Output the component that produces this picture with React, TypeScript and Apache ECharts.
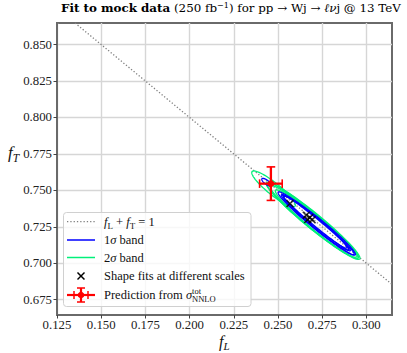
import React, { useEffect, useRef } from "react";
import * as echarts from "echarts";

// ---------- data ----------
const X_TICKS = [0.125, 0.15, 0.175, 0.2, 0.225, 0.25, 0.275, 0.3];
const Y_TICKS = [0.675, 0.7, 0.725, 0.75, 0.775, 0.8, 0.825, 0.85];
const X_RANGE = [0.125, 0.3145];
const Y_RANGE = [0.6645, 0.8648];
// f_L + f_T = 1 line, end points at the axis limits
const SUM_RULE = [
  [0.1352, 0.8648],
  [0.3145, 0.6855],
];
// contour ellipses [centre fL, centre fT, semi-major, semi-minor] (major axis along fL + fT = const)
const SIGMA1 = [
  [0.2435, 0.7556, 0.0035, 0.0013],
  [0.27, 0.729, 0.028, 0.0032],
  [0.2725, 0.7265, 0.029, 0.003],
  [0.2712, 0.7282, 0.025, 0.0027],
  [0.2735, 0.7258, 0.0285, 0.0034],
  [0.2718, 0.7276, 0.027, 0.0022],
];
const SIGMA2 = [
  [0.2475, 0.751, 0.017, 0.0038],
  [0.269, 0.7298, 0.036, 0.0046],
  [0.2705, 0.7283, 0.035, 0.0043],
  [0.272, 0.7268, 0.033, 0.0041],
  [0.27, 0.729, 0.037, 0.0048],
];
const SHAPE_FITS = [
  [0.2568, 0.7409],
  [0.266, 0.733],
  [0.268, 0.7313],
  [0.2693, 0.7298],
  [0.2668, 0.73],
];
// [fL, fT, err fL, err fT]
const PREDICTION = [[0.246, 0.7546, 0.0064, 0.0115]];

// ---------- style ----------
const FONT = "'Liberation Serif', 'Times New Roman', serif";
const TITLE_FONT = "'DejaVu Serif', serif";
const BLUE = "#0000ff";
const GREEN = "#00f07a";
const RED = "#ff0000";
const GRID_COLOR = "#d6d6d6";
const AXIS_COLOR = "#6a6a6a";

type Seg = {
  t: string;
  s: number;
  i?: boolean;
  b?: boolean;
  dy?: number;
  fam?: string;
  stack?: boolean; // start at same x as previous segment
};

let ctx: CanvasRenderingContext2D | null = null;
function textWidth(seg: Seg) {
  if (!ctx) ctx = document.createElement("canvas").getContext("2d");
  if (!ctx) return seg.t.length * seg.s * 0.5;
  ctx.font = `${seg.i ? "italic " : ""}${seg.b ? "bold " : ""}${seg.s}px ${seg.fam || FONT}`;
  return ctx.measureText(seg.t).width;
}

function runWidth(segs: Seg[]) {
  let x = 0;
  let prevStart = 0;
  for (const sg of segs) {
    const start = sg.stack ? prevStart : x;
    const w = textWidth(sg);
    prevStart = start;
    x = sg.stack ? Math.max(x, start + w) : start + w;
  }
  return x;
}

function run(segs: Seg[], x0: number, baseline: number, fill = "#111") {
  const els: any[] = [];
  let x = x0;
  let prevStart = x0;
  for (const sg of segs) {
    const start = sg.stack ? prevStart : x;
    const w = textWidth(sg);
    els.push({
      type: "text",
      x: start,
      y: baseline + (sg.dy || 0) - 0.3 * sg.s,
      z: 100,
      silent: true,
      style: {
        text: sg.t,
        fontSize: sg.s,
        fontFamily: sg.fam || FONT,
        fontStyle: sg.i ? "italic" : "normal",
        fontWeight: sg.b ? "bold" : "normal",
        fill,
        align: "left",
        verticalAlign: "middle",
      },
    });
    prevStart = start;
    x = sg.stack ? Math.max(x, start + w) : start + w;
  }
  return els;
}

function ellipseSeries(name: string, data: number[][], color: string) {
  return {
    type: "custom",
    name,
    data,
    encode: { x: 0, y: 1 },
    silent: true,
    renderItem: (_p: any, api: any) => {
      const cx = api.value(0);
      const cy = api.value(1);
      const a = api.value(2);
      const b = api.value(3);
      const u = [Math.SQRT1_2, -Math.SQRT1_2];
      const v = [Math.SQRT1_2, Math.SQRT1_2];
      const pts: number[][] = [];
      const n = 120;
      for (let k = 0; k <= n; k++) {
        const t = (2 * Math.PI * k) / n;
        const px = cx + a * Math.cos(t) * u[0] + b * Math.sin(t) * v[0];
        const py = cy + a * Math.cos(t) * u[1] + b * Math.sin(t) * v[1];
        pts.push(api.coord([px, py]));
      }
      return {
        type: "polyline",
        shape: { points: pts },
        style: { stroke: color, fill: "none", lineWidth: 1.3 },
      };
    },
  };
}

const CROSS_PATH =
  "path://M0,1.4 L1.4,0 L5,3.6 L8.6,0 L10,1.4 L6.4,5 L10,8.6 L8.6,10 L5,6.4 L1.4,10 L0,8.6 L3.6,5 Z";

export default function App() {
  const ref = useRef<HTMLDivElement>(null);
  useEffect(() => {
    if (!ref.current) return;
    const chart = echarts.init(ref.current, undefined, { renderer: "svg" });

    // ---------- title ----------
    const titleBase: Seg[] = [
      { t: "Fit to mock data", s: 11, b: true, fam: TITLE_FONT },
      { t: " (250 fb", s: 11, fam: TITLE_FONT },
      { t: "\u22121", s: 7.5, dy: -4, fam: TITLE_FONT },
      { t: ") for pp \u2192 Wj \u2192 ", s: 11, fam: TITLE_FONT },
      { t: "\u2113\u03bd", s: 11, i: true, fam: TITLE_FONT },
      { t: "j @ 13 TeV", s: 11, fam: TITLE_FONT },
    ];
    const tw = runWidth(titleBase);
    const k = 340 / tw;
    const titleSegs = titleBase.map((s) => ({ ...s, s: s.s * k, dy: (s.dy || 0) * k }));
    const titleEls = run(titleSegs, 61, 11.5, "#000");

    // ---------- axis labels ----------
    const yLabel = run(
      [
        { t: "f", s: 17, i: true },
        { t: "T", s: 11.5, i: true, dy: 3 },
      ],
      8,
      158,
      "#111"
    );
    const xLabel = run(
      [
        { t: "f", s: 16, i: true },
        { t: "L", s: 11, i: true, dy: 3 },
      ],
      219,
      346,
      "#111"
    );

    // ---------- legend ----------
    const LX = 104;
    const fs = 12.5;
    const rows = [221.7, 240, 257.5, 276, 295];
    const legendText = [
      ...run(
        [
          { t: "f", s: fs, i: true },
          { t: "L", s: 9, dy: 2.5 },
          { t: " + ", s: fs },
          { t: "f", s: fs, i: true },
          { t: "T", s: 9, dy: 2.5 },
          { t: " = 1", s: fs },
        ],
        LX,
        rows[0] + 4
      ),
      ...run(
        [
          { t: "1", s: fs },
          { t: "\u03c3", s: fs, i: true },
          { t: " band", s: fs },
        ],
        LX,
        rows[1] + 4
      ),
      ...run(
        [
          { t: "2", s: fs },
          { t: "\u03c3", s: fs, i: true },
          { t: " band", s: fs },
        ],
        LX,
        rows[2] + 4
      ),
      ...run([{ t: "Shape fits at different scales", s: fs }], LX, rows[3] + 4),
      ...run(
        [
          { t: "Prediction from ", s: fs },
          { t: "\u03c3", s: fs, i: true },
          { t: "tot", s: 8.5, dy: -5.5 },
          { t: "NNLO", s: 8.5, dy: 3, stack: true },
        ],
        LX,
        rows[4] + 4
      ),
    ];
    const hx1 = 67;
    const hx2 = 95;
    const hc = 81;
    const legend = [
      {
        type: "rect",
        z: 90,
        silent: true,
        shape: { x: 63.5, y: 212.5, width: 187.5, height: 94, r: 3 },
        style: { fill: "rgba(255,255,255,0.8)", stroke: "#d0d0d0", lineWidth: 1 },
      },
      {
        type: "line",
        z: 95,
        shape: { x1: hx1, y1: rows[0], x2: hx2, y2: rows[0] },
        style: { stroke: "#808080", lineWidth: 1.3, lineDash: [1.3, 2] },
      },
      {
        type: "line",
        z: 95,
        shape: { x1: hx1, y1: rows[1], x2: hx2, y2: rows[1] },
        style: { stroke: BLUE, lineWidth: 1.5 },
      },
      {
        type: "line",
        z: 95,
        shape: { x1: hx1, y1: rows[2], x2: hx2, y2: rows[2] },
        style: { stroke: GREEN, lineWidth: 1.5 },
      },
      {
        type: "line",
        z: 95,
        shape: { x1: hc - 3.5, y1: rows[3] - 3.5, x2: hc + 3.5, y2: rows[3] + 3.5 },
        style: { stroke: "#000", lineWidth: 1.5 },
      },
      {
        type: "line",
        z: 95,
        shape: { x1: hc - 3.5, y1: rows[3] + 3.5, x2: hc + 3.5, y2: rows[3] - 3.5 },
        style: { stroke: "#000", lineWidth: 1.5 },
      },
      {
        type: "line",
        z: 95,
        shape: { x1: hx1, y1: rows[4], x2: hx2, y2: rows[4] },
        style: { stroke: RED, lineWidth: 2.2 },
      },
      {
        type: "line",
        z: 95,
        shape: { x1: hc, y1: rows[4] - 7, x2: hc, y2: rows[4] + 7 },
        style: { stroke: RED, lineWidth: 2.2 },
      },
      {
        type: "line",
        z: 95,
        shape: { x1: hc - 4, y1: rows[4] - 7, x2: hc + 4, y2: rows[4] - 7 },
        style: { stroke: RED, lineWidth: 1.5 },
      },
      {
        type: "line",
        z: 95,
        shape: { x1: hc - 4, y1: rows[4] + 7, x2: hc + 4, y2: rows[4] + 7 },
        style: { stroke: RED, lineWidth: 1.5 },
      },
      {
        type: "line",
        z: 95,
        shape: { x1: 74, y1: rows[4] - 4, x2: 74, y2: rows[4] + 4 },
        style: { stroke: RED, lineWidth: 1.5 },
      },
      {
        type: "line",
        z: 95,
        shape: { x1: 88, y1: rows[4] - 4, x2: 88, y2: rows[4] + 4 },
        style: { stroke: RED, lineWidth: 1.5 },
      },
      {
        type: "circle",
        z: 95,
        shape: { cx: hc, cy: rows[4], r: 3.3 },
        style: { fill: RED },
      },
    ];

    const axisLabelStyle = {
      fontFamily: FONT,
      fontSize: 12.8,
      color: "#222",
    };

    chart.setOption({
      animation: false,
      grid: {
        left: 57,
        right: 15,
        top: 23,
        bottom: 38,
        show: true,
        borderColor: AXIS_COLOR,
        borderWidth: 2,
        backgroundColor: "transparent",
      },
      xAxis: {
        type: "value",
        min: X_RANGE[0],
        max: X_RANGE[1],
        axisLine: { show: true, onZero: false, lineStyle: { color: AXIS_COLOR, width: 2 } },
        axisTick: {
          show: true,
          length: 3.5,
          customValues: X_TICKS,
          lineStyle: { color: "#444", width: 1 },
        },
        axisLabel: {
          ...axisLabelStyle,
          customValues: X_TICKS,
          margin: 3.5,
          formatter: (v: number) => v.toFixed(3),
        },
        splitLine: { show: true, lineStyle: { color: GRID_COLOR, width: 1.4 } },
      },
      yAxis: {
        type: "value",
        min: Y_RANGE[0],
        max: Y_RANGE[1],
        axisLine: { show: true, onZero: false, lineStyle: { color: AXIS_COLOR, width: 2 } },
        axisTick: {
          show: true,
          length: 3.5,
          customValues: Y_TICKS,
          lineStyle: { color: "#444", width: 1 },
        },
        axisLabel: {
          ...axisLabelStyle,
          customValues: Y_TICKS,
          margin: 5,
          formatter: (v: number) => v.toFixed(3),
        },
        splitLine: { show: true, lineStyle: { color: GRID_COLOR, width: 1.4 } },
      },
      series: [
        {
          type: "line",
          name: "fL + fT = 1",
          data: SUM_RULE,
          showSymbol: false,
          silent: true,
          lineStyle: { color: "#808080", width: 1.3, type: [1.3, 2] },
          z: 2,
        },
        { ...ellipseSeries("2 sigma band", SIGMA2, GREEN), z: 3 },
        { ...ellipseSeries("1 sigma band", SIGMA1, BLUE), z: 4 },
        {
          type: "scatter",
          name: "Shape fits at different scales",
          data: SHAPE_FITS,
          symbol: CROSS_PATH,
          symbolSize: 8,
          itemStyle: { color: "#000" },
          silent: true,
          z: 5,
        },
        {
          type: "custom",
          name: "Prediction",
          data: PREDICTION,
          encode: { x: 0, y: 1 },
          silent: true,
          z: 6,
          renderItem: (_p: any, api: any) => {
            const x = api.value(0);
            const y = api.value(1);
            const ex = api.value(2);
            const ey = api.value(3);
            const c = api.coord([x, y]);
            const l = api.coord([x - ex, y]);
            const r = api.coord([x + ex, y]);
            const t = api.coord([x, y + ey]);
            const b = api.coord([x, y - ey]);
            const st = { stroke: RED, lineWidth: 2.3 };
            const cs = { stroke: RED, lineWidth: 1.6 };
            const cap = 4.3;
            return {
              type: "group",
              children: [
                { type: "line", shape: { x1: l[0], y1: l[1], x2: r[0], y2: r[1] }, style: st },
                { type: "line", shape: { x1: t[0], y1: t[1], x2: b[0], y2: b[1] }, style: st },
                { type: "line", shape: { x1: l[0], y1: l[1] - cap, x2: l[0], y2: l[1] + cap }, style: cs },
                { type: "line", shape: { x1: r[0], y1: r[1] - cap, x2: r[0], y2: r[1] + cap }, style: cs },
                { type: "line", shape: { x1: t[0] - cap, y1: t[1], x2: t[0] + cap, y2: t[1] }, style: cs },
                { type: "line", shape: { x1: b[0] - cap, y1: b[1], x2: b[0] + cap, y2: b[1] }, style: cs },
                { type: "circle", shape: { cx: c[0], cy: c[1], r: 3.4 }, style: { fill: RED } },
              ],
            };
          },
        },
      ],
      graphic: [...titleEls, ...yLabel, ...xLabel, ...legend, ...legendText],
    });
    return () => chart.dispose();
  }, []);
  return (
    <div
      ref={ref}
      style={{ position: "absolute", left: 0, top: 0, width: 407, height: 353, background: "#fff" }}
    />
  );
}
